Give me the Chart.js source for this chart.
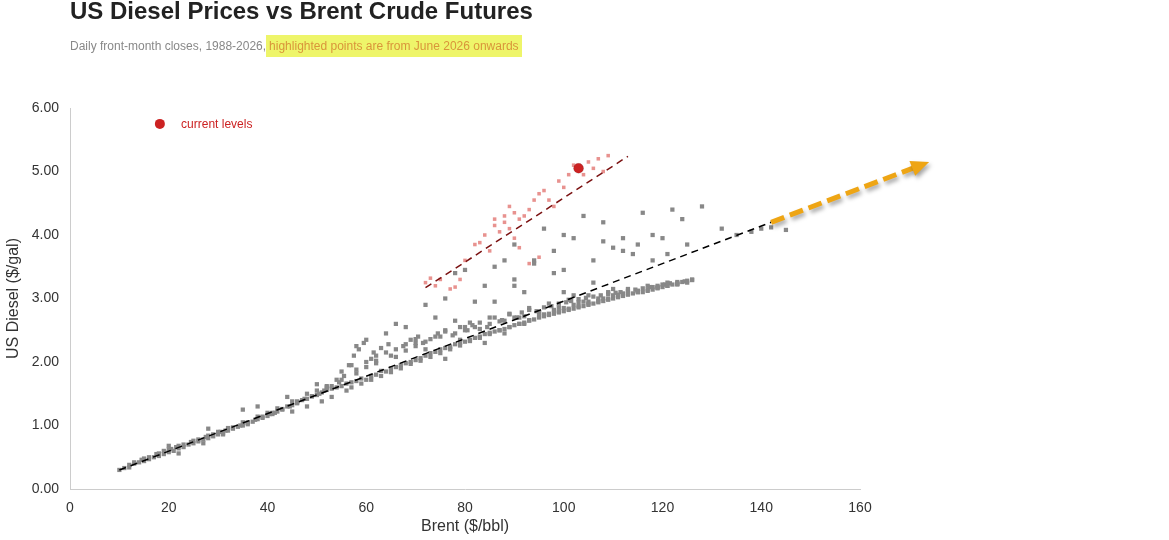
<!DOCTYPE html>
<html>
<head>
<meta charset="utf-8">
<script src="https://cdn.jsdelivr.net/npm/chart.js@4"></script>
<style>
  body { margin: 0; background: #fff; font-family: "Liberation Sans", Arial, sans-serif; }
  #wrap { position: relative; width: 1169px; height: 540px; }
  h1 { position: absolute; left: 70px; top: -3px; margin: 0; font-size: 24px; font-weight: bold; color: #222; }
  .sub { position: absolute; left: 70px; top: 39px; font-size: 12px; color: #888; }
  .sub span { background: #eef56a; color: #d9953a; padding: 4px 3px; }
</style>
</head>
<body>
<div id="wrap">
  <h1>US Diesel Prices vs Brent Crude Futures</h1>
  <div class="sub">Daily front-month closes, 1988-2026,<span>highlighted points are from June 2026 onwards</span></div>
  <canvas id="c" width="1169" height="540"></canvas>
</div>
<script>
// historical daily closes (Brent $/bbl, diesel $/gal)
const brent = [10,11,12,12,13,14,15,15,16,17,18,18,19,20,20,21,22,22,23,24,25,25,26,27,28,28,29,30,30,31,32,32,33,34,35,35,36,37,38,38,39,40,40,41,42,42,43,44,45,45,46,47,48,48,49,50,50,51,52,52,53,54,55,55,56,57,58,58,59,60,60,61,62,62,63,64,65,65,66,67,68,68,69,70,70,71,72,72,73,74,75,75,76,77,78,78,79,80,80,81,82,82,83,84,85,85,86,87,88,88,89,90,90,91,92,92,93,94,95,95,96,97,98,98,99,100,100,101,102,102,103,104,105,105,106,107,108,108,109,110,110,111,112,112,113,114,115,115,116,117,118,118,119,120,120,121,122,123,124,125,126,
  20,28,35,38,44,50,55,57,58,60,62,64,66,68,70,72,74,76,78,78,80,82,84,86,88,90,90,92,94,96,98,100,100,102,104,106,108,110,112,114,116,118,120,122,125,128,132,135,138,140,142,145,
  76,80,84,86,88,90,92,94,96,98,100,102,104,106,108,110,112,115,118,121,124,
  13,14.5,16,17.5,19,20.5,21.5,23,24.5,26,27.5,29,30.5,31.5,33,34.5,36,37.5,39,40.5,41.5,43,44.5,46,47.5,49,50.5,51.5,53,54.5,55.5,56.5,57.5,58.5,59.5,61,61.5,63,64.5,66,67.5,69,70.5,71.5,73,74.5,76,77.5,79,80.5,81.5,83,84.5,86,87.5,89,90.5,91.5,93,94.5,96,97.5,99,100.5,101.5,103,104.5,106,107.5,109,110.5,111.5,113,114.5,116,117.5,119,120.5,121.5,123,124.5,126,
  45,48,51,53,56,57,59,61,63,65,67,69,71,73,75,77,79,81,83,85,87,89,91,93,95,97,99,101,103,105,107,109,111,113,115,117,119,121,123,125,
  22,27,31,36,41,46,52,54,58,60,62,64,66,68,70,72,74,76,79,81,83,85,87,89,91,93,95,97,99,101,103,105,107,109,111,113,115,117,119,121,123];
const diesel = [0.30,0.33,0.34,0.38,0.40,0.42,0.44,0.48,0.47,0.50,0.52,0.56,0.55,0.58,0.62,0.60,0.64,0.68,0.66,0.70,0.72,0.76,0.75,0.78,0.80,0.84,0.83,0.86,0.90,0.88,0.92,0.96,0.95,0.98,1.00,1.05,1.04,1.06,1.10,1.14,1.12,1.15,1.20,1.18,1.22,1.27,1.25,1.30,1.32,1.38,1.36,1.40,1.42,1.50,1.46,1.48,1.55,1.52,1.56,1.62,1.58,1.60,1.62,1.72,1.66,1.68,1.70,1.82,1.74,1.72,1.92,1.78,1.80,2.02,1.86,1.85,1.90,2.10,1.92,1.95,1.98,2.18,2.00,2.03,2.25,2.06,2.10,2.32,2.14,2.16,2.20,2.40,2.22,2.24,2.28,2.45,2.30,2.32,2.50,2.35,2.38,2.55,2.40,2.44,2.46,2.60,2.48,2.50,2.52,2.65,2.55,2.58,2.70,2.60,2.62,2.72,2.65,2.67,2.70,2.78,2.72,2.74,2.76,2.82,2.78,2.80,2.85,2.82,2.84,2.90,2.86,2.88,2.90,2.95,2.92,2.94,2.96,3.00,2.98,3.00,3.05,3.02,3.04,3.08,3.06,3.08,3.10,3.12,3.10,3.12,3.14,3.18,3.16,3.18,3.22,3.20,3.22,3.24,3.26,3.28,3.30,
  0.68,0.95,1.25,1.30,1.45,1.65,1.85,1.95,2.25,2.35,2.10,2.45,2.60,2.55,2.30,2.90,2.70,3.00,2.65,3.40,3.45,2.95,3.20,3.50,3.60,3.30,3.85,3.10,3.60,4.10,3.75,3.45,4.00,3.95,4.30,3.60,4.20,3.80,3.95,3.70,4.35,4.00,3.95,4.40,3.85,4.45,4.10,4.00,4.05,4.10,4.12,4.08,
  2.05,2.55,2.30,2.95,2.45,3.20,2.60,3.55,2.75,3.40,3.10,3.05,2.95,3.25,3.90,3.15,3.75,3.85,3.60,3.70,4.25,
  0.42,0.46,0.50,0.55,0.60,0.63,0.66,0.70,0.74,0.78,0.82,0.86,0.90,0.92,0.97,1.00,1.05,1.09,1.14,1.18,1.20,1.26,1.30,1.35,1.42,1.46,1.50,1.55,1.62,1.68,1.78,1.95,2.10,2.20,2.30,2.05,2.15,2.22,2.28,2.20,2.25,2.35,2.40,2.30,2.36,2.45,2.50,2.42,2.55,2.50,2.58,2.62,2.55,2.70,2.66,2.75,2.70,2.78,2.82,2.80,2.86,2.88,2.92,2.94,2.96,2.99,3.01,3.03,3.05,3.07,3.09,3.10,3.12,3.14,3.16,3.18,3.20,3.22,3.24,3.26,3.27,3.29,
  1.22,1.30,1.38,1.45,1.55,1.60,1.66,1.72,1.78,1.84,1.90,1.97,2.02,2.08,2.14,2.20,2.26,2.33,2.38,2.44,2.50,2.55,2.60,2.66,2.72,2.76,2.80,2.84,2.88,2.92,2.96,3.00,3.04,3.08,3.10,3.14,3.17,3.20,3.23,3.25,
  0.56,0.72,0.86,1.02,1.20,1.38,1.60,1.72,1.88,2.00,1.98,2.15,2.08,2.28,2.36,2.20,2.40,2.48,2.35,2.62,2.52,2.70,2.64,2.76,2.70,2.85,2.78,2.92,2.86,2.98,2.94,3.05,3.00,3.10,3.06,3.15,3.12,3.20,3.18,3.25,3.22];
// June 2026 onwards
const hiBrent = [72,73,74,75,77,78,79,80,82,83,84,85,86,86,87,88,88,89,89,90,90,91,91,92,93,93,94,95,95,96,97,98,99,100,101,102,104,105,106,107,108,109];
const hiDiesel = [3.25,3.32,3.20,3.30,3.15,3.18,3.30,3.60,3.85,3.88,4.00,3.75,4.15,4.25,4.05,4.20,4.30,4.45,4.10,4.35,3.95,4.25,3.80,4.30,4.40,3.55,4.55,3.65,4.65,4.70,4.55,4.45,4.85,4.75,4.95,5.10,4.95,5.15,5.05,5.20,5.00,5.25];
const currentBrent = 103, currentDiesel = 5.05;
// dashed fit lines
const fitAll = [[10, 0.3], [142, 4.2]];
const fitHi = [[72, 3.17], [113, 5.24]];
const arrow = [[142, 4.2], [174, 5.15]];

const overlay = {
  id: 'overlay',
  afterDatasetsDraw(chart) {
    const { ctx, scales: { x, y } } = chart;
    const px = p => [x.getPixelForValue(p[0]), y.getPixelForValue(p[1])];
    // legend item
    ctx.save();
    ctx.fillStyle = '#cc2222';
    ctx.beginPath(); ctx.arc(x.getPixelForValue(18.2), y.getPixelForValue(5.75), 5, 0, Math.PI * 2); ctx.fill();
    ctx.font = '12px "Liberation Sans", Arial';
    ctx.textBaseline = 'middle';
    ctx.fillText('current levels', x.getPixelForValue(22.5), y.getPixelForValue(5.73));
    // orange arrow
    const [x0, y0] = px(arrow[0]), [x1, y1] = px(arrow[1]);
    const a = Math.atan2(y1 - y0, x1 - x0);
    ctx.shadowColor = 'rgba(0,0,0,0.35)'; ctx.shadowBlur = 4; ctx.shadowOffsetX = 2; ctx.shadowOffsetY = 3;
    ctx.strokeStyle = '#eea514'; ctx.fillStyle = '#eea514';
    ctx.lineWidth = 5; ctx.setLineDash([14, 6]);
    ctx.beginPath(); ctx.moveTo(x0, y0); ctx.lineTo(x1 - 14 * Math.cos(a), y1 - 14 * Math.sin(a)); ctx.stroke();
    ctx.setLineDash([]);
    ctx.beginPath();
    ctx.moveTo(x1, y1);
    ctx.lineTo(x1 - 18 * Math.cos(a) + 8 * Math.sin(a), y1 - 18 * Math.sin(a) - 8 * Math.cos(a));
    ctx.lineTo(x1 - 18 * Math.cos(a) - 8 * Math.sin(a), y1 - 18 * Math.sin(a) + 8 * Math.cos(a));
    ctx.closePath(); ctx.fill();
    ctx.restore();
  }
};

new Chart(document.getElementById('c'), {
  type: 'scatter',
  data: {
    datasets: [
      { data: [{ x: currentBrent, y: currentDiesel }], backgroundColor: '#cc2222', pointRadius: 5, pointStyle: 'circle', order: 0 },
      { data: fitHi.map(p => ({ x: p[0], y: p[1] })), showLine: true, borderColor: '#7a1010', borderWidth: 1.5, borderDash: [7, 5], pointRadius: 0, order: 1 },
      { data: fitAll.map(p => ({ x: p[0], y: p[1] })), showLine: true, borderColor: '#000', borderWidth: 1.5, borderDash: [7, 5], pointRadius: 0, order: 1 },
      { data: hiBrent.map((v, i) => ({ x: v, y: hiDiesel[i] })), backgroundColor: '#e8928f', pointStyle: 'rect', pointRadius: 2.5, borderWidth: 0, order: 2 },
      { data: brent.map((v, i) => ({ x: v, y: diesel[i] })), backgroundColor: '#888', pointStyle: 'rect', pointRadius: 3, borderWidth: 0, order: 3 }
    ]
  },
  options: {
    responsive: false,
    animation: false,
    layout: { padding: { top: 108, right: 309, bottom: 0, left: 0 } },
    plugins: { legend: { display: false }, tooltip: { enabled: false } },
    scales: {
      x: {
        min: 0, max: 160,
        ticks: { stepSize: 20, color: '#333', font: { size: 14 } },
        grid: { display: false, drawTicks: true },
        border: { color: '#ccc' },
        title: { display: true, text: 'Brent ($/bbl)', color: '#333', font: { size: 16 } },
        afterFit: s => { s.height = 51; }
      },
      y: {
        min: 0, max: 6,
        ticks: { stepSize: 1, color: '#333', font: { size: 14 }, callback: v => v.toFixed(2) },
        grid: { display: false },
        border: { color: '#ccc' },
        title: { display: true, text: 'US Diesel ($/gal)', color: '#333', font: { size: 16 } },
        afterFit: s => { s.width = 70; }
      }
    }
  },
  plugins: [overlay]
});
</script>
</body>
</html>
